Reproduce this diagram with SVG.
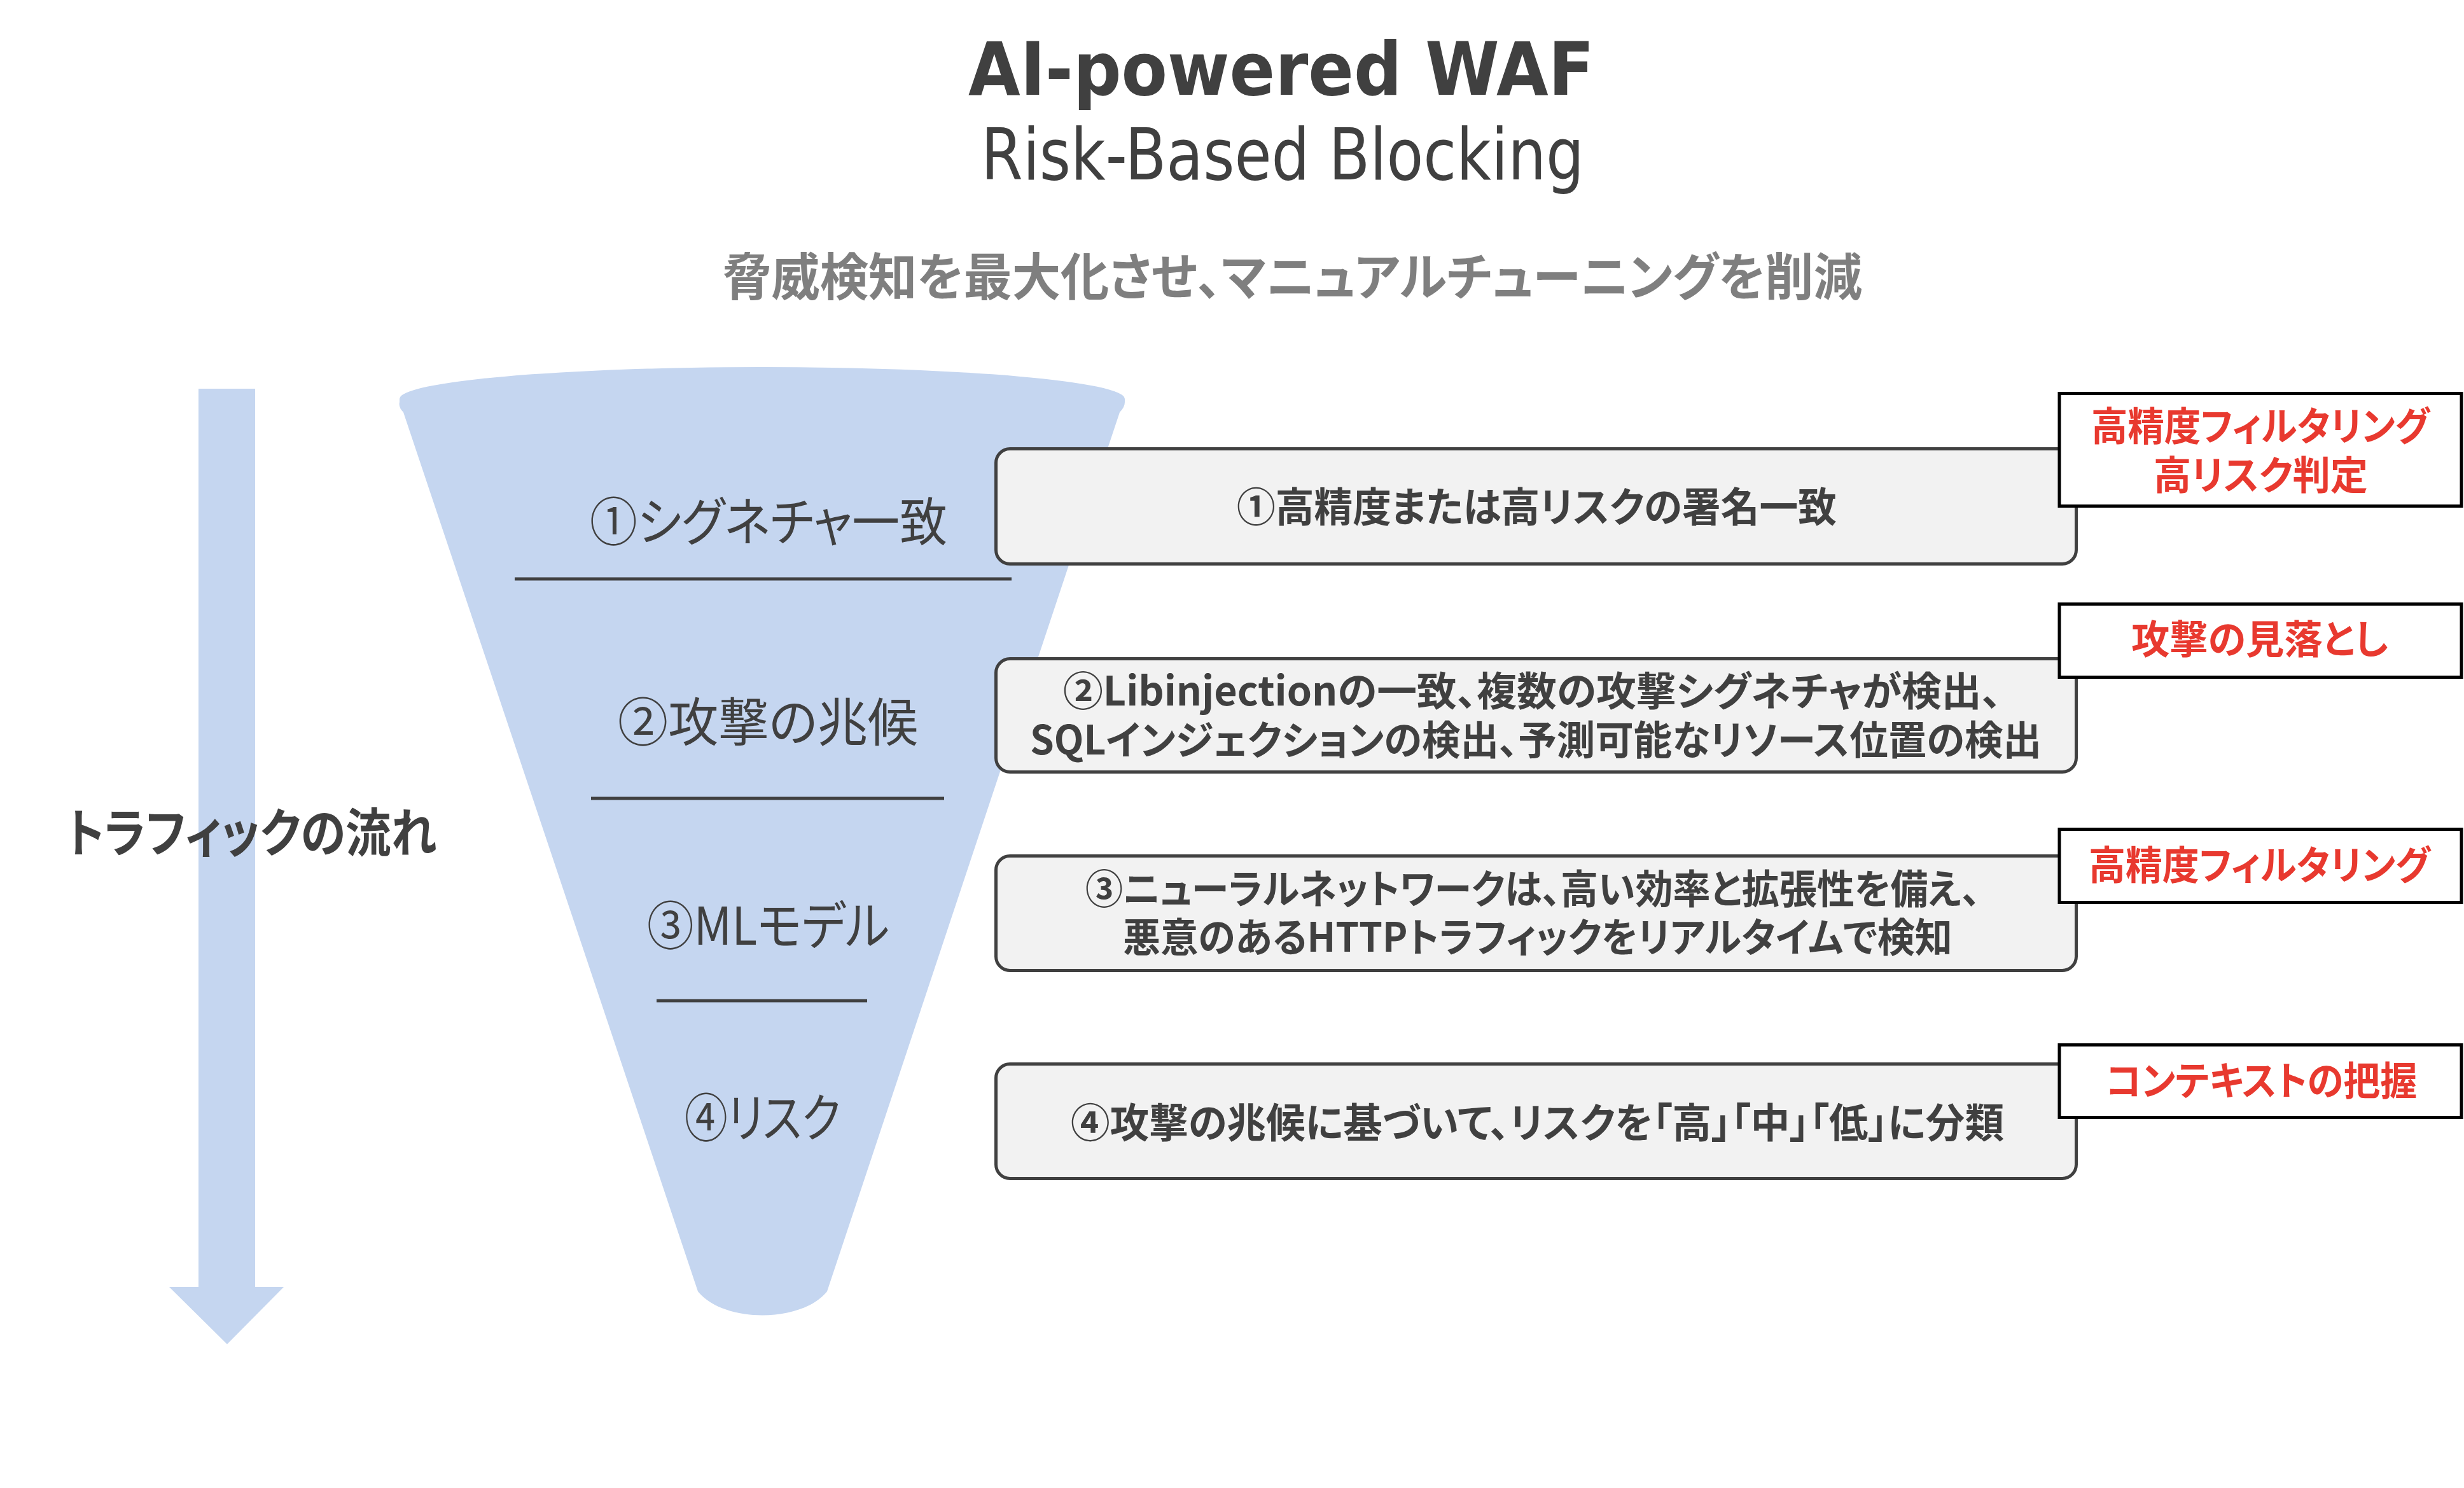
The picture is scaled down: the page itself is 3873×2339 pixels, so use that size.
<svg xmlns="http://www.w3.org/2000/svg" width="3873" height="2339" viewBox="0 0 3873 2339">
<style>
  .jp { font-family: "Noto Sans CJK JP", "Noto Sans", sans-serif; font-feature-settings: "palt" 1; }
  .lat { font-family: "DejaVu Sans", "Noto Sans", sans-serif; }
  .dark { fill: #404040; }
  .b { font-weight: bold; }
  .red { fill: #E8392F; font-weight: bold; }
  .gbox { fill: #F2F2F2; stroke: #404040; stroke-width: 5; }
  .rbox { fill: #FFFFFF; stroke: #000000; stroke-width: 5; }
  .sep { stroke: #404040; stroke-width: 5; }
  .blue { fill: #C5D6F0; }
</style>
<rect x="0" y="0" width="3873" height="2339" fill="#FFFFFF"/>

<g id="title">
  <text class="lat dark b" x="1522" y="149" font-size="116" textLength="984" lengthAdjust="spacingAndGlyphs">AI-powered WAF</text>
  <text class="lat dark" x="1542" y="282" font-size="112" textLength="948" lengthAdjust="spacingAndGlyphs">Risk-Based Blocking</text>
  <text class="jp b" fill="#7F7F7F" x="1136" y="464" font-size="80" textLength="1791" lengthAdjust="spacingAndGlyphs">脅威検知を最大化させ、マニュアルチューニングを削減</text>
</g>

<g id="connectors">
  <polygon id="flow-arrow" class="blue" points="312,611 401,611 401,2023 446,2023 357,2113 266,2023 312,2023"/>
</g>

<g id="flow-label">
  <text class="jp dark b" x="104" y="1339" font-size="82" textLength="582" lengthAdjust="spacingAndGlyphs">トラフィックの流れ</text>
</g>

<g id="funnel">
  <path class="blue" d="M 628 627 A 570 50 0 0 1 1768 627 L 1768 632 Q 1768 640 1760 648 L 1300 2030 C 1260 2080 1137 2080 1097 2030 L 634 648 Q 626 640 628 632 Z"/>
  <line class="sep" x1="809" y1="910" x2="1590" y2="910"/>
  <line class="sep" x1="929" y1="1255" x2="1484" y2="1255"/>
  <line class="sep" x1="1032" y1="1573" x2="1363" y2="1573"/>
</g>

<g id="stage-1">
  <text class="jp dark" x="927" y="850" font-size="82" textLength="562" lengthAdjust="spacingAndGlyphs">①シグネチャ一致</text>
</g>
<g id="stage-2">
  <text class="jp dark" x="971" y="1165" font-size="82" textLength="472" lengthAdjust="spacingAndGlyphs">②攻撃の兆候</text>
</g>
<g id="stage-3">
  <text class="jp dark" x="1017" y="1485" font-size="82" textLength="381" lengthAdjust="spacingAndGlyphs">③MLモデル</text>
</g>
<g id="stage-4">
  <text class="jp dark" x="1076" y="1787" font-size="82" textLength="245" lengthAdjust="spacingAndGlyphs">④リスク</text>
</g>

<g id="desc-1">
  <rect class="gbox" x="1565.5" y="705.5" width="1698" height="181" rx="22" ry="22"/>
  <text class="jp dark b" x="1944" y="820" font-size="64" textLength="943" lengthAdjust="spacingAndGlyphs">①高精度または高リスクの署名一致</text>
</g>
<g id="desc-2">
  <rect class="gbox" x="1565.5" y="1035.5" width="1698" height="178" rx="22" ry="22"/>
  <text class="jp dark b" font-size="63"><tspan x="1671" y="1109" textLength="1475" lengthAdjust="spacingAndGlyphs">②Libinjectionの一致、複数の攻撃シグネチャが検出、</tspan><tspan x="1619" y="1186" textLength="1590" lengthAdjust="spacingAndGlyphs">SQLインジェクションの検出、予測可能なリソース位置の検出</tspan></text>
</g>
<g id="desc-3">
  <rect class="gbox" x="1565.5" y="1345.5" width="1698" height="180" rx="22" ry="22"/>
  <text class="jp dark b" font-size="63"><tspan x="1706" y="1420" textLength="1407" lengthAdjust="spacingAndGlyphs">③ニューラルネットワークは、高い効率と拡張性を備え、</tspan><tspan x="1765" y="1496" textLength="1304" lengthAdjust="spacingAndGlyphs">悪意のあるHTTPトラフィックをリアルタイムで検知</tspan></text>
</g>
<g id="desc-4">
  <rect class="gbox" x="1565.5" y="1672.5" width="1698" height="180" rx="22" ry="22"/>
  <text class="jp dark b" x="1683" y="1788" font-size="64" textLength="1467" lengthAdjust="spacingAndGlyphs">④攻撃の兆候に基づいて、リスクを「高」「中」「低」に分類</text>
</g>

<g id="result-1">
  <rect class="rbox" x="3237" y="618.5" width="632" height="177"/>
  <text class="jp red" font-size="62"><tspan x="3287" y="693" textLength="532" lengthAdjust="spacingAndGlyphs">高精度フィルタリング</tspan><tspan x="3385" y="770" textLength="337" lengthAdjust="spacingAndGlyphs">高リスク判定</tspan></text>
</g>
<g id="result-2">
  <rect class="rbox" x="3237" y="949.5" width="632" height="115"/>
  <text class="jp red" x="3350" y="1028" font-size="62" textLength="404" lengthAdjust="spacingAndGlyphs">攻撃の見落とし</text>
</g>
<g id="result-3">
  <rect class="rbox" x="3237" y="1303.5" width="632" height="115"/>
  <text class="jp red" x="3283" y="1383" font-size="62" textLength="537" lengthAdjust="spacingAndGlyphs">高精度フィルタリング</text>
</g>
<g id="result-4">
  <rect class="rbox" x="3237" y="1642.5" width="632" height="114"/>
  <text class="jp red" x="3310" y="1722" font-size="62" textLength="489" lengthAdjust="spacingAndGlyphs">コンテキストの把握</text>
</g>
</svg>
